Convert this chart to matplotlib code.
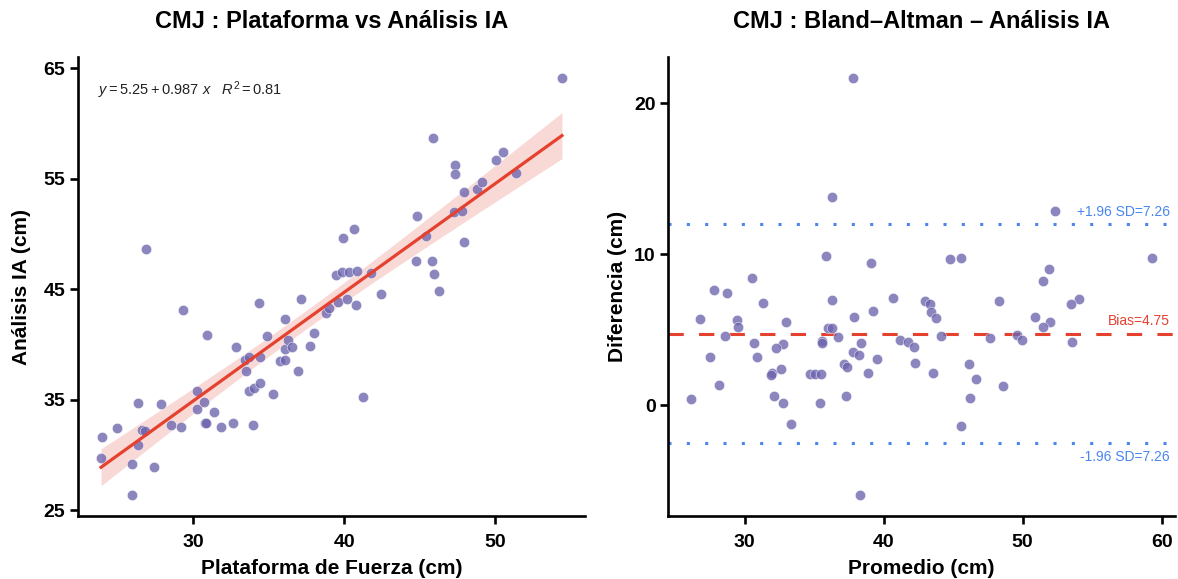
import numpy as np
import matplotlib
matplotlib.use('Agg')
import matplotlib.pyplot as plt
import matplotlib.transforms as mtransforms

plt.rcParams['font.family'] = ['Liberation Sans', 'DejaVu Sans']
plt.rcParams['mathtext.fontset'] = 'custom'
plt.rcParams['mathtext.rm'] = 'Liberation Sans'
plt.rcParams['mathtext.it'] = 'Liberation Sans:italic'

# CMJ - Plataforma de Fuerza vs Analisis IA (cm)
plataforma = [23.97, 23.91, 24.96, 25.95, 25.95, 26.34, 26.60, 26.80, 26.34, 27.39,
              27.85, 28.57, 29.23, 29.36, 30.28, 30.28, 30.74, 30.94, 30.81, 30.85,
              31.40, 31.86, 32.65, 32.85, 33.96, 33.44, 33.70, 34.42, 33.50, 33.70,
              34.03, 34.42, 34.36, 34.88, 35.28, 35.74, 36.06, 36.06, 36.06, 36.26,
              36.52, 36.92, 37.12, 37.71, 37.97, 38.82, 39.02, 39.61, 40.20, 40.80,
              42.44, 46.25, 41.25, 54.40, 45.85, 47.30, 47.30, 50.06, 50.52, 51.37,
              47.89, 48.81, 49.14, 47.23, 47.76, 44.80, 45.39, 47.89, 39.94, 40.66,
              39.48, 39.88, 40.34, 40.86, 41.78, 44.74, 45.79, 45.92, 26.87]
analisis_ia = [31.60, 29.71, 32.41, 29.17, 26.38, 34.76, 32.23, 32.14, 30.88, 28.90,
               34.67, 32.77, 32.50, 43.14, 35.84, 34.13, 34.85, 40.88, 32.95, 32.90,
               33.86, 32.50, 32.95, 39.80, 32.77, 38.63, 38.90, 38.90, 37.64, 35.84,
               36.11, 36.56, 43.77, 40.79, 35.57, 38.54, 38.63, 42.32, 39.62, 40.43,
               39.80, 37.64, 44.13, 39.89, 41.06, 42.86, 43.32, 43.86, 44.13, 43.59,
               44.58, 44.85, 35.30, 64.13, 58.72, 56.29, 55.48, 56.74, 57.46, 55.57,
               53.77, 54.04, 54.67, 51.96, 52.05, 51.60, 49.80, 49.26, 49.62, 50.43,
               46.29, 46.56, 46.56, 46.65, 46.47, 47.55, 47.55, 46.38, 48.63]

# Bland-Altman: promedio y diferencia (cm)
promedio = [37.79, 36.29, 35.86, 39.08, 30.50, 27.78, 28.71, 40.65, 36.29, 52.30,
            44.80, 45.58, 59.31, 51.87, 51.44, 42.94, 48.30, 54.09, 26.78, 31.29,
            29.43, 29.50, 28.57, 33.00, 37.86, 39.22, 36.00, 36.29, 36.72, 35.58,
            35.58, 38.36, 30.64, 32.79, 32.22, 27.50, 30.86, 37.79, 38.22, 39.51,
            37.15, 37.36, 31.93, 31.86, 32.64, 34.72, 35.08, 35.50, 38.86, 28.14,
            26.14, 32.14, 32.79, 35.43, 37.29, 33.36, 38.29, 43.30, 43.44, 43.80,
            53.45, 50.87, 51.94, 51.44, 44.15, 41.15, 41.72, 42.15, 42.22, 43.58,
            47.66, 49.59, 49.94, 53.52, 46.15, 46.65, 48.58, 46.23, 45.58]
diferencia = [21.67, 13.76, 9.87, 9.41, 8.42, 7.63, 7.43, 7.10, 6.97, 12.83,
              9.67, 9.74, 9.74, 9.01, 8.22, 6.90, 6.90, 7.03, 5.72, 6.77,
              5.65, 5.19, 4.59, 5.52, 5.85, 6.24, 5.12, 5.12, 4.53, 4.26,
              4.13, 4.13, 4.13, 4.07, 3.80, 3.21, 3.21, 3.54, 3.34, 3.08,
              2.75, 2.55, 2.16, 2.02, 2.42, 2.09, 2.09, 2.09, 2.16, 1.36,
              0.44, 0.64, 0.18, 0.18, 0.64, -1.21, -5.95, 6.70, 6.18, 5.78,
              6.70, 5.85, 5.52, 5.19, 4.59, 4.33, 4.20, 3.87, 2.81, 2.16,
              4.46, 4.66, 4.33, 4.20, 2.75, 1.76, 1.30, 0.51, -1.40]

bias = 4.75
sd196 = 7.26

point_col = '#6C64AE'
red = '#E5412F'
blue = '#4A86F0'


def style_axes(ax):
    for s in ['top', 'right']:
        ax.spines[s].set_visible(False)
    for s in ['left', 'bottom']:
        ax.spines[s].set_linewidth(1.9)
        ax.spines[s].set_color('black')
    ax.tick_params(width=1.9, length=6, labelsize=14, colors='black')
    ax.tick_params(axis='x', pad=7)
    ax.tick_params(axis='y', pad=3)
    for lab in ax.get_xticklabels() + ax.get_yticklabels():
        lab.set_fontweight('bold')


fig = plt.figure(figsize=(11.78, 5.79), dpi=100)
ax1 = fig.add_axes([0.0662, 0.1088, 0.4304, 0.7927])
ax2 = fig.add_axes([0.5671, 0.1088, 0.4304, 0.7927])

# left panel: scatter + regression with 95% CI
x = np.array(plataforma)
y = np.array(analisis_ia)
slope, intercept = np.polyfit(x, y, 1)
xs = np.linspace(x.min(), x.max(), 100)
ys = intercept + slope * xs
n = len(x)
resid = y - (intercept + slope * x)
s = np.sqrt(np.sum(resid ** 2) / (n - 2))
se = s * np.sqrt(1 / n + (xs - x.mean()) ** 2 / np.sum((x - x.mean()) ** 2))
ax1.fill_between(xs, ys - 1.99 * se, ys + 1.99 * se, color=red, alpha=0.2, lw=0)
ax1.scatter(x, y, s=55, color=point_col, alpha=0.78, edgecolor='white', linewidth=0.4, zorder=3)
ax1.plot(xs, ys, color=red, lw=2.3, zorder=4)
ax1.set_xticks([30, 40, 50])
ax1.set_yticks([25, 35, 45, 55, 65])
ax1.set_xlabel('Plataforma de Fuerza (cm)', fontsize=15, fontweight='bold', labelpad=6)
ax1.set_ylabel('Análisis IA (cm)', fontsize=15, fontweight='bold', labelpad=9)
ax1.set_title('CMJ : Plataforma vs Análisis IA', fontsize=17, fontweight='bold', pad=21)
ax1.text(0.04, 0.928, r'$y = 5.25 + 0.987\ x\quad R^2 = 0.81$', transform=ax1.transAxes,
         fontsize=10.5, ha='left', va='center', color='#222222')
style_axes(ax1)

# right panel: Bland-Altman
ax2.scatter(promedio, diferencia, s=55, color=point_col, alpha=0.78, edgecolor='white',
            linewidth=0.4, zorder=3)
ax2.axhline(bias, color=red, lw=2.2, ls=(0, (5, 5)), zorder=2)
ax2.axhline(bias + sd196, color=blue, lw=2.2, ls=(0, (1, 5)), zorder=2)
ax2.axhline(bias - sd196, color=blue, lw=2.2, ls=(0, (1, 5)), zorder=2)
trans = mtransforms.blended_transform_factory(ax2.transAxes, ax2.transData)
ax2.text(0.99, bias + 0.35, 'Bias=%.2f' % bias, transform=trans, ha='right', va='bottom',
         color=red, fontsize=10)
ax2.text(0.99, bias + sd196 + 0.35, '+1.96 SD=%.2f' % sd196, transform=trans, ha='right',
         va='bottom', color=blue, fontsize=10)
ax2.text(0.99, bias - sd196 - 0.45, '-1.96 SD=%.2f' % sd196, transform=trans, ha='right',
         va='top', color=blue, fontsize=10)
ax2.set_xticks([30, 40, 50, 60])
ax2.set_yticks([0, 10, 20])
ax2.set_xlabel('Promedio (cm)', fontsize=15, fontweight='bold', labelpad=6)
ax2.set_ylabel('Diferencia (cm)', fontsize=15, fontweight='bold', labelpad=5)
ax2.set_title('CMJ : Bland–Altman – Análisis IA', fontsize=17, fontweight='bold', pad=21)
style_axes(ax2)

fig.savefig('out.png', dpi=100)
